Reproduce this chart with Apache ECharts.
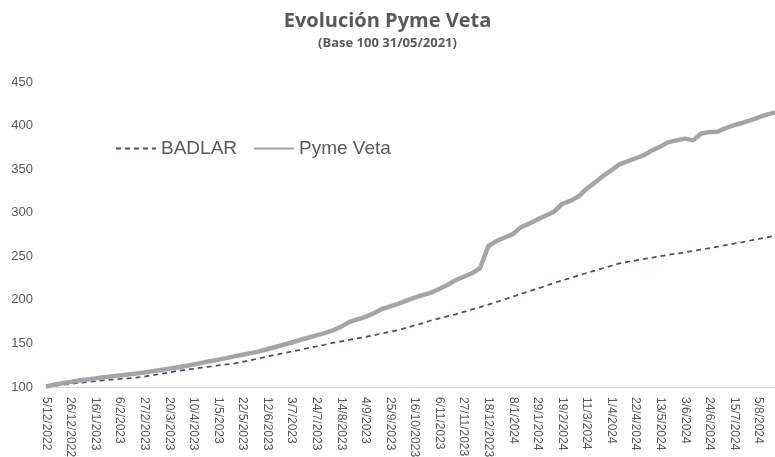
<!DOCTYPE html>
<html>
<head>
<meta charset="utf-8">
<script src="https://cdn.jsdelivr.net/npm/echarts@6/dist/echarts.min.js"></script>
<style>
  html, body { margin: 0; padding: 0; background: #fff; }
  #chart { width: 775px; height: 457px; }
</style>
</head>
<body>
<div id="chart"></div>
<script>
// weekly points, first one 5/12/2022
var startDate = new Date(2022, 11, 5);
var badlar = [
  100, 101.2, 102.4, 103.6, 104.8, 105.7, 106.7, 107.7, 108.6, 109.2,
  110, 110.7, 112, 113.5, 115.1, 116.7, 118.3, 119.6, 120.9, 122.2,
  123.5, 124.7, 125.9, 127.1, 128.8, 130.8, 132.9, 135, 136.9, 138.9,
  140.7, 142.6, 144.6, 146.5, 148.5, 150.6, 152.3, 154.1, 155.8, 157.5,
  159.4, 161.4, 163.4, 165.3, 168, 170.7, 173.3, 176.3, 178.8, 181.1,
  183.4, 186.2, 189, 191.7, 194.5, 197.5, 200.6, 203.7, 206.8, 209.9,
  212.9, 216, 219.3, 222.2, 225, 227.9, 230.8, 233.5, 236.3, 239.1,
  241.8, 243.5, 245.2, 246.9, 248.5, 250.1, 251.7, 253.1, 254.6, 256.1,
  257.6, 259.3, 261, 262.8, 264.6, 266.3, 268.1, 269.9, 271.8, 273.6
];
var pymeVeta = [
  100.5, 102.5, 104.3, 105.9, 107.4, 108.6, 109.8, 111.1, 112.2, 113.3,
  114.4, 115.4, 116.7, 118.1, 119.5, 120.9, 122.3, 124, 125.9, 127.7,
  129.5, 131.3, 133.1, 135.2, 137, 138.9, 140.8, 143.3, 145.9, 148.5,
  151.1, 153.9, 156.5, 159.2, 161.8, 164.9, 169, 174.5, 177.5, 180.5,
  184.5, 189.5, 192.4, 195.5, 199, 202.5, 205.5, 208.3, 212.5, 217,
  222.5, 226.5, 230.5, 236.5, 261.5, 267.5, 271.5, 275.5, 283.5, 287.5,
  292.3, 296.5, 301, 310, 313.5, 318.5, 327.5, 334.5, 342, 348.5,
  355.5, 359, 362.5, 366, 371.5, 376, 381, 383, 385, 383,
  391, 392.5, 393, 397, 400.5, 403, 406, 409.5, 412.5, 415
];

var dates = [];
for (var i = 0; i < pymeVeta.length; i++) {
  var d = new Date(startDate.getTime());
  d.setDate(d.getDate() + i * 7);
  dates.push(d.getDate() + '/' + (d.getMonth() + 1) + '/' + d.getFullYear());
}

var chart = echarts.init(document.getElementById('chart'));
chart.setOption({
  animation: false,
  title: {
    text: 'Evolución Pyme Veta',
    subtext: '(Base 100 31/05/2021)',
    left: 'center',
    top: 6,
    itemGap: 6,
    textStyle: { fontFamily: 'Liberation Sans Narrow, Open Sans, sans-serif', fontSize: 20, fontWeight: 'bold', color: '#595959' },
    subtextStyle: { fontFamily: 'Liberation Sans Narrow, Open Sans, sans-serif', fontSize: 13, fontWeight: 'bold', color: '#595959' }
  },
  legend: {
    left: 110,
    top: 134,
    itemWidth: 40,
    itemHeight: 14,
    itemGap: 16,
    itemStyle: { opacity: 0 },
    textStyle: { fontFamily: 'Liberation Sans', fontSize: 19, color: '#595959' },
    data: ['BADLAR', 'Pyme Veta']
  },
  grid: { left: 46, right: 0, top: 82, bottom: 70, outerBoundsMode: 'none' },
  xAxis: {
    type: 'category',
    data: dates,
    boundaryGap: false,
    axisLine: { lineStyle: { color: '#d9d9d9', width: 1 } },
    axisTick: { show: false },
    axisLabel: {
      interval: 2,
      rotate: -90,
      margin: 10,
      fontFamily: 'Liberation Sans',
      fontSize: 12,
      color: '#595959'
    }
  },
  yAxis: {
    type: 'value',
    min: 100,
    max: 450,
    interval: 50,
    axisLine: { show: false },
    axisTick: { show: false },
    splitLine: { show: false },
    axisLabel: { fontFamily: 'Liberation Sans', fontSize: 13, color: '#595959', margin: 13 }
  },
  series: [
    {
      name: 'BADLAR',
      type: 'line',
      data: badlar,
      symbol: 'none',
      lineStyle: { color: '#44546a', width: 1.75, type: [5, 4] },
      itemStyle: { color: '#44546a' }
    },
    {
      name: 'Pyme Veta',
      type: 'line',
      data: pymeVeta,
      symbol: 'none',
      lineStyle: { color: '#a5a5a5', width: 4.5 },
      itemStyle: { color: '#a5a5a5' }
    }
  ]
});
</script>
</body>
</html>
